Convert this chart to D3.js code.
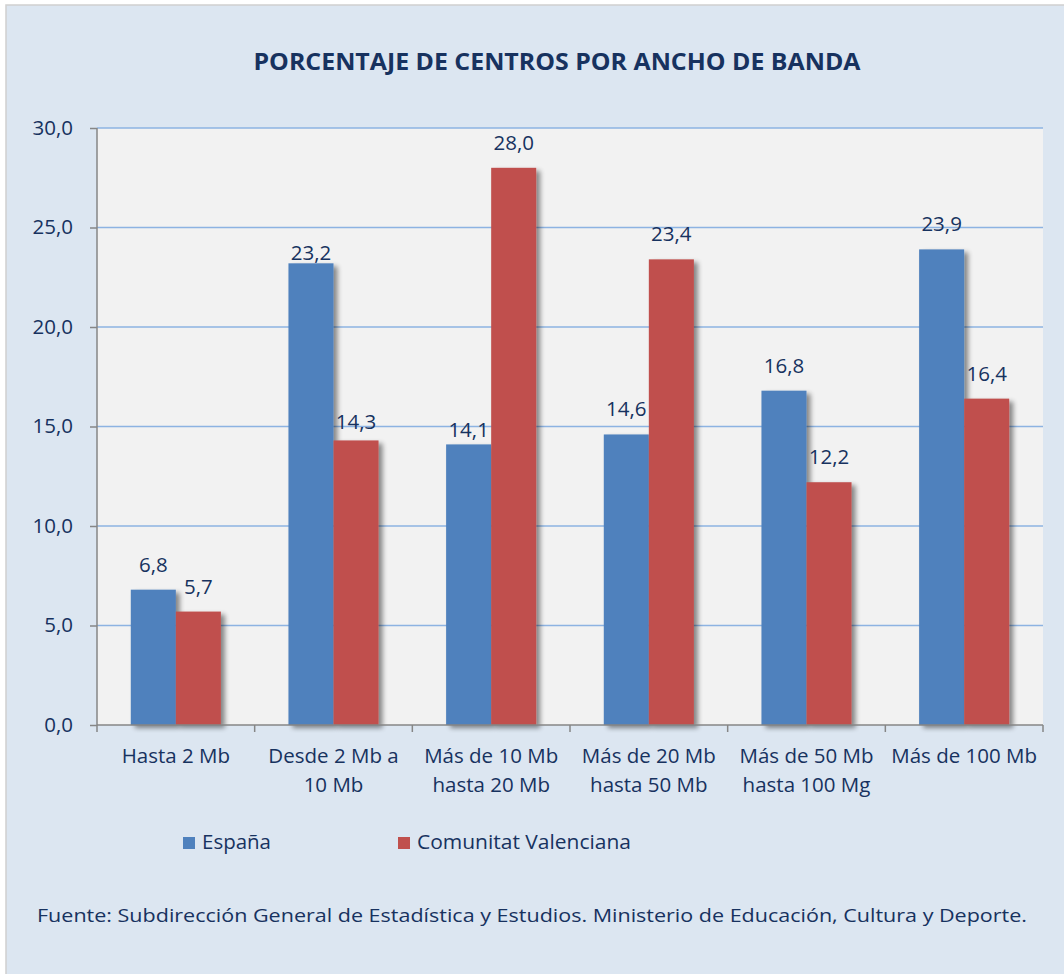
<!DOCTYPE html>
<html>
<head>
<meta charset="utf-8">
<script src="https://cdn.jsdelivr.net/npm/d3@7"></script>
<style>
  body { margin: 0; background: #ffffff; }
  svg text { font-family: "Open Sans", "Noto Sans", sans-serif; fill: #17325f; }
</style>
</head>
<body>
<script>
const categories = [
  ["Hasta 2 Mb"],
  ["Desde 2 Mb a", "10 Mb"],
  ["Más de 10 Mb", "hasta 20 Mb"],
  ["Más de 20 Mb", "hasta 50 Mb"],
  ["Más de 50 Mb", "hasta 100 Mg"],
  ["Más de 100 Mb"]
];
const seriesNames = ["España", "Comunitat Valenciana"];
const espana = [6.8, 23.2, 14.1, 14.6, 16.8, 23.9];
const valenciana = [5.7, 14.3, 28.0, 23.4, 12.2, 16.4];
const yTicks = [0, 5, 10, 15, 20, 25, 30];
const colors = ["#4f81bd", "#c0504d"];

// some labels were nudged down in the original chart
const labelNudge = [
  [0, 15, 11, 0, 0, 0],
  [0, 7, 0, 0, 0, 0]
];

const W = 1064, H = 974;
const plot = { left: 97, right: 1043, top: 128, bottom: 725 };

const svg = d3.select("body").append("svg")
  .attr("width", W)
  .attr("height", H);

const defs = svg.append("defs");
const shadow = defs.append("filter")
  .attr("id", "shadow")
  .attr("x", "-20%").attr("y", "-10%")
  .attr("width", "150%").attr("height", "130%");
shadow.append("feGaussianBlur").attr("in", "SourceAlpha").attr("stdDeviation", 2.5);
shadow.append("feOffset").attr("dx", 4).attr("dy", 3).attr("result", "off");
shadow.append("feComponentTransfer").append("feFuncA").attr("type", "linear").attr("slope", 0.45);
const merge = shadow.append("feMerge");
merge.append("feMergeNode");
merge.append("feMergeNode").attr("in", "SourceGraphic");

// chart background
svg.append("rect")
  .attr("x", 6).attr("y", 5)
  .attr("width", W).attr("height", H)
  .attr("fill", "#dce6f1")
  .attr("stroke", "#d0d0d0")
  .attr("stroke-width", 1.5);

svg.append("rect")
  .attr("x", plot.left).attr("y", plot.top)
  .attr("width", plot.right - plot.left)
  .attr("height", plot.bottom - plot.top)
  .attr("fill", "#f2f2f2");

const x0 = d3.scaleBand()
  .domain(d3.range(categories.length))
  .range([plot.left, plot.right]);

const x1 = d3.scaleBand()
  .domain([0, 1])
  .range([0, x0.bandwidth()])
  .paddingOuter(0.75);

const y = d3.scaleLinear()
  .domain([0, 30])
  .range([plot.bottom, plot.top]);

// gridlines
svg.append("g")
  .selectAll("line")
  .data(yTicks.filter(d => d > 0))
  .join("line")
  .attr("x1", plot.left).attr("x2", plot.right)
  .attr("y1", d => y(d)).attr("y2", d => y(d))
  .attr("stroke", "#8db3e2")
  .attr("stroke-width", 1.5);

// y axis
const yAxis = svg.append("g")
  .attr("transform", `translate(${plot.left},0)`)
  .call(d3.axisLeft(y).tickValues(yTicks).tickSize(7).tickPadding(17)
    .tickFormat(d => d3.format(".1f")(d).replace(".", ",")));
yAxis.selectAll("path, line").attr("stroke", "#868686").attr("stroke-width", 1.5);
yAxis.select(".domain").attr("d", `M0,${plot.top}V${plot.bottom}`);
yAxis.selectAll("text").style("font-size", "20.5px").attr("fill", "#17325f").attr("dy", "0.3em");

// bars
const data = categories.map((c, i) => [espana[i], valenciana[i]]);
const groups = svg.append("g")
  .selectAll("g")
  .data(data)
  .join("g")
  .attr("transform", (d, i) => `translate(${x0(i)},0)`);

groups.selectAll("rect")
  .data(d => d.map((v, s) => ({ v, s })))
  .join("rect")
  .attr("x", d => x1(d.s))
  .attr("width", x1.bandwidth())
  .attr("y", d => y(d.v))
  .attr("height", d => y(0) - y(d.v))
  .attr("fill", d => colors[d.s])
  .attr("filter", "url(#shadow)");

groups.selectAll("text")
  .data((d, i) => d.map((v, s) => ({ v, s, i })))
  .join("text")
  .attr("x", d => x1(d.s) + x1.bandwidth() / 2)
  .attr("y", d => y(d.v) - 18 + labelNudge[d.s][d.i])
  .attr("text-anchor", "middle")
  .style("font-size", "20.5px")
  .text(d => d3.format(".1f")(d.v).replace(".", ","));

// x axis
const xAxis = svg.append("g")
  .attr("transform", `translate(0,${plot.bottom})`);
xAxis.append("line")
  .attr("x1", plot.left).attr("x2", plot.right)
  .attr("stroke", "#868686").attr("stroke-width", 1.5);
xAxis.selectAll(".tk")
  .data(d3.range(categories.length + 1))
  .join("line")
  .attr("class", "tk")
  .attr("x1", i => plot.left + i * x0.step())
  .attr("x2", i => plot.left + i * x0.step())
  .attr("y1", 0).attr("y2", 7)
  .attr("stroke", "#868686").attr("stroke-width", 1.5);
xAxis.selectAll(".lbl")
  .data(categories)
  .join("text")
  .attr("class", "lbl")
  .attr("text-anchor", "middle")
  .attr("transform", (d, i) => `translate(${x0(i) + x0.bandwidth() / 2},38)`)
  .style("font-size", "20.5px")
  .selectAll("tspan")
  .data(d => d)
  .join("tspan")
  .attr("x", 0)
  .attr("dy", (d, i) => i === 0 ? 0 : 29)
  .text(d => d);

// title
svg.append("text")
  .attr("x", 557).attr("y", 70)
  .attr("text-anchor", "middle")
  .style("font-size", "24px")
  .style("font-weight", "bold")
  .attr("textLength", 607)
  .attr("lengthAdjust", "spacingAndGlyphs")
  .text("PORCENTAJE DE CENTROS POR ANCHO DE BANDA");

// legend
const legendX = [183, 398];
const legendW = [69, 214];
const legend = svg.append("g");
legend.selectAll("rect")
  .data(seriesNames)
  .join("rect")
  .attr("x", (d, i) => legendX[i]).attr("y", 837)
  .attr("width", 12).attr("height", 12)
  .attr("fill", (d, i) => colors[i]);
legend.selectAll("text")
  .data(seriesNames)
  .join("text")
  .attr("x", (d, i) => legendX[i] + 19).attr("y", 849)
  .attr("textLength", (d, i) => legendW[i])
  .attr("lengthAdjust", "spacingAndGlyphs")
  .style("font-size", "20.5px")
  .text(d => d);

// source
svg.append("text")
  .attr("x", 37).attr("y", 922)
  .attr("textLength", 990)
  .attr("lengthAdjust", "spacingAndGlyphs")
  .style("font-size", "18px")
  .text("Fuente: Subdirección General de Estadística y Estudios. Ministerio de Educación, Cultura y Deporte.");
</script>
</body>
</html>
